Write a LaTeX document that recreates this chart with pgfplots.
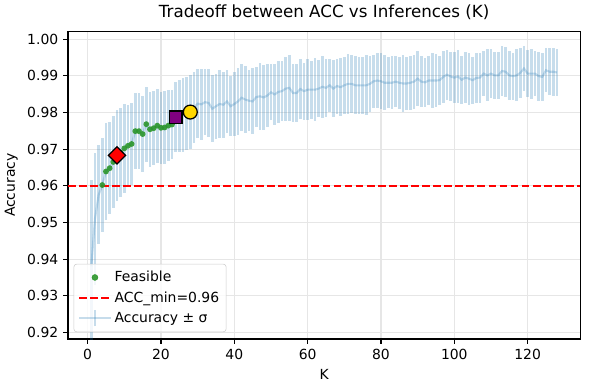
\documentclass[border=0pt]{standalone}
\usepackage{fontspec}
\setmainfont{DejaVu Sans}
\usepackage{pgfplots}
\usepackage{pgfplotstable}
\pgfplotsset{compat=1.18}

\definecolor{tabblue}{RGB}{31,119,180}
\definecolor{tabgreen}{RGB}{44,150,44}
\definecolor{gridc}{RGB}{230,230,230}
\definecolor{mplpurple}{RGB}{128,0,128}
\definecolor{mplgold}{RGB}{255,215,0}
\definecolor{mplred}{RGB}{255,0,0}

% mean accuracy and std per K
\pgfplotstableread{
K m s
1 0.9380 0.0235
2 0.9510 0.0180
3 0.9575 0.0135
4 0.9602 0.0128
5 0.9639 0.0133
6 0.9648 0.0126
7 0.9665 0.0126
8 0.9683 0.0124
9 0.9690 0.0122
10 0.9702 0.0122
11 0.9709 0.0110
12 0.9714 0.0112
13 0.9749 0.0103
14 0.9749 0.0103
15 0.9741 0.0103
16 0.9768 0.0102
17 0.9754 0.0102
18 0.9757 0.0101
19 0.9764 0.0101
20 0.9758 0.0098
21 0.9759 0.0100
22 0.9764 0.0096
23 0.9767 0.0094
24 0.9787 0.0096
25 0.9790 0.0098
26 0.9793 0.0100
27 0.9797 0.0100
28 0.9801 0.0101
29 0.9813 0.0097
30 0.9824 0.0094
31 0.9822 0.0097
32 0.9828 0.0090
33 0.9826 0.0092
34 0.9810 0.0091
35 0.9817 0.0089
36 0.9823 0.0093
37 0.9821 0.0090
38 0.9830 0.0086
39 0.9817 0.0082
40 0.9823 0.0088
41 0.9830 0.0092
42 0.9840 0.0091
43 0.9835 0.0091
44 0.9832 0.0083
45 0.9830 0.0090
46 0.9842 0.0082
47 0.9844 0.0091
48 0.9841 0.0088
49 0.9846 0.0085
50 0.9855 0.0076
51 0.9849 0.0084
52 0.9856 0.0084
53 0.9858 0.0082
54 0.9865 0.0087
55 0.9867 0.0089
56 0.9853 0.0078
57 0.9853 0.0079
58 0.9864 0.0082
59 0.9858 0.0078
60 0.9862 0.0083
61 0.9862 0.0079
62 0.9862 0.0086
63 0.9865 0.0077
64 0.9870 0.0084
65 0.9867 0.0079
66 0.9874 0.0073
67 0.9865 0.0077
68 0.9872 0.0075
69 0.9869 0.0079
70 0.9874 0.0078
71 0.9878 0.0081
72 0.9878 0.0080
73 0.9874 0.0079
74 0.9874 0.0077
75 0.9874 0.0078
76 0.9874 0.0082
77 0.9878 0.0076
78 0.9885 0.0072
79 0.9887 0.0075
80 0.9885 0.0076
81 0.9881 0.0075
82 0.9881 0.0069
83 0.9881 0.0072
84 0.9884 0.0069
85 0.9881 0.0071
86 0.9879 0.0077
87 0.9879 0.0073
88 0.9881 0.0074
89 0.9884 0.0074
90 0.9892 0.0075
91 0.9884 0.0069
92 0.9882 0.0067
93 0.9887 0.0068
94 0.9887 0.0074
95 0.9887 0.0072
96 0.9888 0.0067
97 0.9897 0.0071
98 0.9903 0.0068
99 0.9898 0.0066
100 0.9895 0.0070
101 0.9898 0.0073
102 0.9889 0.0066
103 0.9895 0.0069
104 0.9892 0.0071
105 0.9888 0.0064
106 0.9894 0.0069
107 0.9895 0.0068
108 0.9906 0.0061
109 0.9901 0.0071
110 0.9906 0.0066
111 0.9901 0.0065
112 0.9901 0.0065
113 0.9913 0.0068
114 0.9911 0.0068
115 0.9901 0.0067
116 0.9899 0.0064
117 0.9901 0.0071
118 0.9908 0.0068
119 0.9920 0.0062
120 0.9906 0.0065
121 0.9906 0.0068
122 0.9906 0.0062
123 0.9899 0.0067
124 0.9897 0.0066
125 0.9915 0.0060
126 0.9911 0.0064
127 0.9911 0.0065
128 0.9909 0.0063
}\acc

% feasible K values
\pgfplotstableread{
K m
4 0.9602
5 0.9639
6 0.9648
7 0.9665
8 0.9683
9 0.9690
10 0.9702
11 0.9709
12 0.9714
13 0.9749
14 0.9749
15 0.9741
16 0.9768
17 0.9754
18 0.9757
19 0.9764
20 0.9758
21 0.9759
22 0.9764
23 0.9767
24 0.9787
}\feas

\begin{document}
\begin{tikzpicture}
\begin{axis}[
  scale only axis, width=368pt, height=221pt,
  xmin=-5.35, xmax=134.35, ymin=0.9182, ymax=1.0021,
  xtick={0,20,40,60,80,100,120},
  ytick={0.92,0.93,0.94,0.95,0.96,0.97,0.98,0.99,1.00},
  scaled y ticks=false,
  yticklabel style={/pgf/number format/fixed, /pgf/number format/fixed zerofill,
    /pgf/number format/precision=2},
  /pgf/number format/assume math mode=true,
  tick label style={font=\fontsize{10}{12}\selectfont},
  label style={font=\fontsize{10}{12}\selectfont},
  title style={font=\fontsize{12}{14}\selectfont, yshift=-1pt},
  title={Tradeoff between ACC vs Inferences (K)},
  xlabel={K}, ylabel={Accuracy},
  grid=major, major grid style={gridc, line width=0.8pt},
  tick align=outside, tick pos=left, major tick length=3.5pt,
  every tick/.style={black, line width=0.8pt},
  axis line style={line width=0.8pt},
  legend style={at={(0,0)}, anchor=south west, xshift=4pt, yshift=5pt,
    draw=gray!40, fill=white, fill opacity=0.8, text opacity=1,
    rounded corners=2pt, font=\fontsize{10}{12}\selectfont,
    row sep=1.5pt, inner sep=3pt},
  legend cell align=left,
]
\addplot[tabblue, draw opacity=0.25, line width=1.5pt, mark=none, forget plot,
  error bars/.cd, y dir=both, y explicit, error mark=none,
  error bar style={line width=2.1pt, tabblue, draw opacity=0.25}]
  table[x=K, y=m, y error=s]{\acc};

\addplot[mplred, line width=1.5pt, dash pattern=on 5.55pt off 2.4pt, forget plot]
  coordinates {(-5.35,0.96) (134.35,0.96)};

\addplot[only marks, mark=*, mark size=2.1pt, forget plot,
  mark options={draw=tabgreen, draw opacity=0, fill=tabgreen, fill opacity=0.9}]
  table[x=K, y=m]{\feas};

\addplot[only marks, mark=square*, mark size=4.4pt, forget plot,
  mark options={rotate=45, fill=mplred, draw=black, line width=0.9pt}]
  coordinates {(8,0.9683)};
\addplot[only marks, mark=square*, mark size=4.5pt, forget plot,
  mark options={fill=mplpurple, draw=black, line width=0.9pt}]
  coordinates {(24,0.9787)};
\addplot[only marks, mark=*, mark size=5pt, forget plot,
  mark options={fill=mplgold, draw=black, line width=0.9pt}]
  coordinates {(28,0.9801)};

\addlegendimage{legend image code/.code={
  \fill[tabgreen, fill opacity=0.9] (0.45cm,0cm) circle (2.1pt);}}
\addlegendentry{Feasible}
\addlegendimage{legend image code/.code={
  \draw[mplred, line width=1.5pt, dash pattern=on 5.55pt off 2.4pt] (0.05cm,0cm) -- (0.85cm,0cm);}}
\addlegendentry{ACC\_min=0.96}
\addlegendimage{legend image code/.code={
  \draw[tabblue, draw opacity=0.25, line width=1.5pt] (0.05cm,0cm) -- (0.85cm,0cm);
  \draw[tabblue, draw opacity=0.25, line width=2pt] (0.45cm,-0.2cm) -- (0.45cm,0.2cm);}}
\addlegendentry{Accuracy ± σ}
\end{axis}
\path ([xshift=7pt]current axis.east);
\end{tikzpicture}
\end{document}
